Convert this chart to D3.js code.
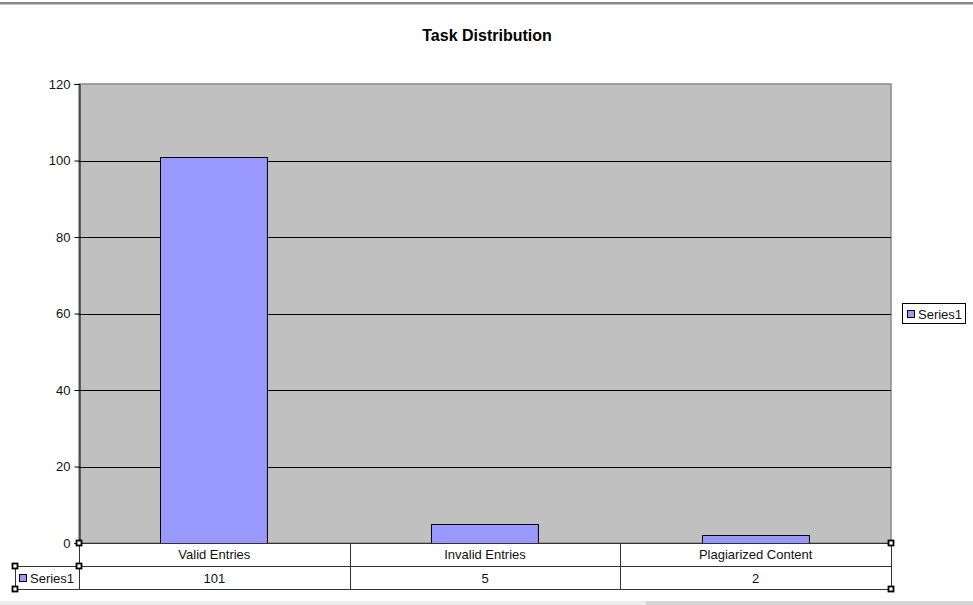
<!DOCTYPE html>
<html><head><meta charset="utf-8">
<script src="https://cdn.jsdelivr.net/npm/d3@7"></script>
<style>body{margin:0;background:#fff}svg{display:block}text{font-family:"Liberation Sans",Arial,sans-serif}</style>
</head><body>
<script>
const categories = ["Valid Entries", "Invalid Entries", "Plagiarized Content"];
const values = [101, 5, 2];
const seriesName = "Series1";
const yTicks = [0, 20, 40, 60, 80, 100, 120];
const title = "Task Distribution";

const W = 973, H = 605;
const svg = d3.select("body").append("svg").attr("width", W).attr("height", H);

// window chrome
svg.append("rect").attr("x",0).attr("y",0).attr("width",W).attr("height",H).attr("fill","#fff");
svg.append("rect").attr("x",0).attr("y",2).attr("width",W).attr("height",2).attr("fill","#8a8a8a");
svg.append("rect").attr("x",0).attr("y",4).attr("width",W).attr("height",1).attr("fill","#c8c8c8");
svg.append("rect").attr("x",0).attr("y",601).attr("width",W).attr("height",4).attr("fill","#ececec");
svg.append("rect").attr("x",646).attr("y",601).attr("width",W-646).attr("height",4).attr("fill","#d4d4d4");

const L = 79, R = 891, T = 84, B = 543;
const x = d3.scaleBand().domain(categories).range([L, R]).paddingInner(0.605).paddingOuter(0.3025);
const y = d3.scaleLinear().domain([0, 120]).range([B, T]);

svg.append("text").attr("x", 487).attr("y", 41).attr("text-anchor","middle")
  .attr("font-size","16px").attr("font-weight","bold").attr("fill","#000").text(title);

// plot area
svg.append("rect").attr("x",L).attr("y",T).attr("width",R-L).attr("height",B-T)
  .attr("fill","#c0c0c0").attr("stroke","#8c8c8c").attr("stroke-width",1.5);

// gridlines
svg.append("g").selectAll("line").data(yTicks.filter(t=>t>0 && t<120)).join("line")
  .attr("x1",L).attr("x2",R).attr("y1",d=>Math.round(y(d))+0.5).attr("y2",d=>Math.round(y(d))+0.5)
  .attr("stroke","#000").attr("stroke-width",1);

// bars
svg.append("g").selectAll("rect").data(values).join("rect")
  .attr("x",(d,i)=>Math.floor(x(categories[i]))+0.5)
  .attr("y",d=>Math.round(y(d))+0.5)
  .attr("width",x.bandwidth())
  .attr("height",d=>B-Math.round(y(d)))
  .attr("fill","#9999ff").attr("stroke","#000").attr("stroke-width",1);

// y axis
const yAxis = d3.axisLeft(y).tickValues(yTicks).tickSize(5).tickPadding(4);
const ga = svg.append("g").attr("transform",`translate(${L+0.5},0)`).call(yAxis);
ga.select(".domain").attr("stroke","#000");
ga.selectAll(".tick line").attr("stroke","#000");
ga.selectAll(".tick text").attr("font-size","13px").attr("fill","#111")
  .attr("font-family","Liberation Sans, Arial, sans-serif");

// data table
const rowH = 23, t1 = B, t2 = B + rowH, t3 = B + 2*rowH;
const tbl = svg.append("g");
const cols = [L].concat(categories.map((c,i)=>L + (R-L)*(i+1)/categories.length));
tbl.append("rect").attr("x",L+0.5).attr("y",t1+0.5).attr("width",R-L).attr("height",2*rowH).attr("fill","#fff").attr("stroke","#333");
tbl.append("rect").attr("x",15.5).attr("y",t2+0.5).attr("width",L-15).attr("height",rowH).attr("fill","#fff").attr("stroke","#333");
tbl.append("line").attr("x1",L).attr("x2",R).attr("y1",t2+0.5).attr("y2",t2+0.5).attr("stroke","#333");
tbl.selectAll(".cd").data(cols.slice(1,-1)).join("line").attr("class","cd")
  .attr("x1",d=>Math.round(d)+0.5).attr("x2",d=>Math.round(d)+0.5).attr("y1",t1).attr("y2",t3).attr("stroke","#333");
tbl.selectAll(".ct").data(categories).join("text").attr("class","ct")
  .attr("x",(d,i)=>(cols[i]+cols[i+1])/2).attr("y",t1+16).attr("text-anchor","middle")
  .attr("font-size","13px").attr("fill","#111").text(d=>d);
tbl.selectAll(".cv").data(values).join("text").attr("class","cv")
  .attr("x",(d,i)=>(cols[i]+cols[i+1])/2).attr("y",t2+17).attr("text-anchor","middle")
  .attr("font-size","13px").attr("fill","#111").text(d=>d);
tbl.append("rect").attr("x",19.5).attr("y",t2+8.5).attr("width",7).attr("height",7).attr("fill","#9999ff").attr("stroke","#000");
tbl.append("text").attr("x",30).attr("y",t2+17).attr("font-size","13px").attr("fill","#111").text(seriesName);

// selection handles
const handles = [[L,B],[R,B],[15,t2],[L,t2],[15,t3],[R,t3]];
svg.selectAll(".h").data(handles).join("rect").attr("class","h")
  .attr("x",d=>d[0]-2.5).attr("y",d=>d[1]-2.5).attr("width",5).attr("height",5)
  .attr("fill","#fff").attr("stroke","#000").attr("stroke-width",1.8);

// legend
const lg = svg.append("g");
lg.append("rect").attr("x",902.5).attr("y",303.5).attr("width",63).attr("height",20).attr("fill","#fff").attr("stroke","#000");
lg.append("rect").attr("x",907.5).attr("y",310.5).attr("width",7).attr("height",7).attr("fill","#9999ff").attr("stroke","#000");
lg.append("text").attr("x",918).attr("y",319).attr("font-size","13px").attr("fill","#111").text(seriesName);
</script>
</body></html>
